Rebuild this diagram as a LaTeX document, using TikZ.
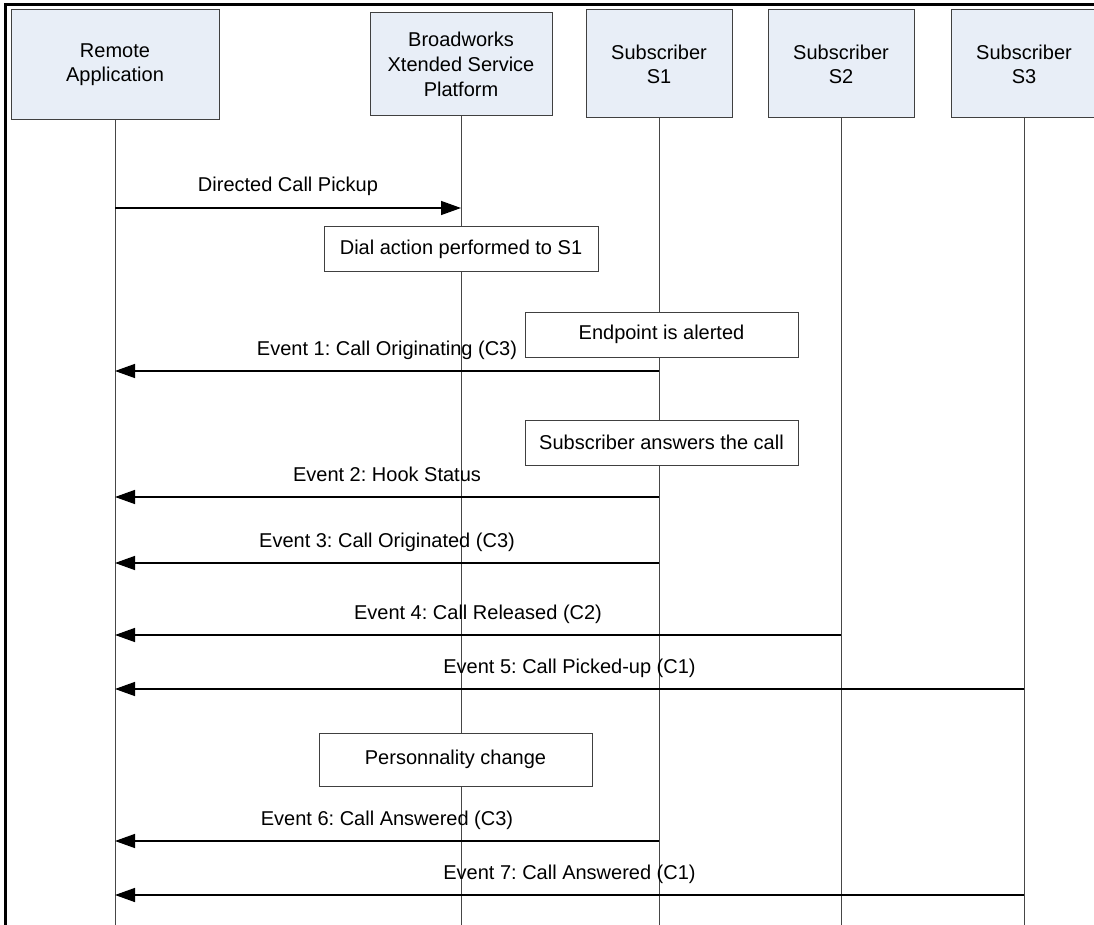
\documentclass[tikz,border=0pt]{standalone}
\usepackage{fontspec}
\setmainfont{Liberation Sans}
\usetikzlibrary{arrows.meta,calc}
\frenchspacing

\definecolor{headfill}{RGB}{232,238,247}
\definecolor{headline}{RGB}{64,64,64}
\definecolor{lifeline}{RGB}{70,70,70}

\tikzset{
  x=1pt, y=-1pt,
  every node/.style={font=\fontsize{20}{24}\selectfont, inner sep=0pt},
  header/.style={draw=headline, line width=1pt, fill=headfill, align=center},
  action/.style={draw=headline, line width=1pt, fill=white, minimum width=273pt},
  life/.style={draw=lifeline, line width=1pt},
  msg/.style={draw=black, line width=1.4pt, -{Triangle[length=20pt,width=14pt]}},
  msglabel/.style={anchor=base},
  frame/.style={line width=3pt, draw=black}
}

\begin{document}
\begin{tikzpicture}
\useasboundingbox (0,0) rectangle (1094,925);

% outer frame
\draw[frame] (5,925) -- (5,5) -- (1094,5);

% participants
\node[header, minimum width=208pt, minimum height=110pt] (ra) at (115,65) {Remote\\Application};
\node[header, minimum width=182pt, minimum height=103pt, font=\fontsize{20}{25}\selectfont] (bx) at (461,64.5) {Broadworks\\Xtended Service\\Platform};
\node[header, minimum width=146pt, minimum height=108pt] (s1) at (659,64) {Subscriber\\S1};
\node[header, minimum width=146pt, minimum height=108pt] (s2) at (841,64) {Subscriber\\S2};
\node[header, minimum width=146pt, minimum height=108pt] (s3) at (1024,64) {Subscriber\\S3};

% bottom of the lifelines
\coordinate (bot) at (0,925);

% lifelines
\foreach \p in {ra,bx,s1,s2,s3} {
  \draw[life] (\p.south) -- (\p.south |- bot);
}

% message rows
\coordinate (y0) at (0,208);
\coordinate (y1) at (0,371);
\coordinate (y2) at (0,497);
\coordinate (y3) at (0,563);
\coordinate (y4) at (0,635);
\coordinate (y5) at (0,689);
\coordinate (y6) at (0,841);
\coordinate (y7) at (0,895);

% processing steps
\node[action, minimum width=274pt, minimum height=44pt] (dial) at (461,249) {Dial action performed to S1};
\node[action, minimum height=45pt] (alert) at (661.5,334.5) {Endpoint is alerted};
\node[action, minimum height=45pt] (answer) at (661.5,442.5) {Subscriber answers the call};
\node[action, minimum height=53pt] (person) at (455.5,759.5) {Personnality change};

% messages
\draw[msg] (ra |- y0) -- (bx |- y0);
\node[msglabel] (l0) at ($(ra |- y0)!0.5!(bx |- y0) + (0,-16)$) {Directed Call Pickup};

\draw[msg] (s1 |- y1) -- (ra |- y1);
\node[msglabel] (l1) at ($(ra |- y1)!0.5!(s1 |- y1) + (0,-16)$) {Event 1: Call Originating (C3)};

\draw[msg] (s1 |- y2) -- (ra |- y2);
\node[msglabel] (l2) at ($(ra |- y2)!0.5!(s1 |- y2) + (0,-16)$) {Event 2: Hook Status};

\draw[msg] (s1 |- y3) -- (ra |- y3);
\node[msglabel] (l3) at ($(ra |- y3)!0.5!(s1 |- y3) + (0,-16)$) {Event 3: Call Originated (C3)};

\draw[msg] (s2 |- y4) -- (ra |- y4);
\node[msglabel] (l4) at ($(ra |- y4)!0.5!(s2 |- y4) + (0,-16)$) {Event 4: Call Released (C2)};

\draw[msg] (s3 |- y5) -- (ra |- y5);
\node[msglabel] (l5) at ($(ra |- y5)!0.5!(s3 |- y5) + (0,-16)$) {Event 5: Call Picked-up (C1)};

\draw[msg] (s1 |- y6) -- (ra |- y6);
\node[msglabel] (l6) at ($(ra |- y6)!0.5!(s1 |- y6) + (0,-16)$) {Event 6: Call Answered (C3)};

\draw[msg] (s3 |- y7) -- (ra |- y7);
\node[msglabel] (l7) at ($(ra |- y7)!0.5!(s3 |- y7) + (0,-16)$) {Event 7: Call Answered (C1)};

\end{tikzpicture}
\end{document}
